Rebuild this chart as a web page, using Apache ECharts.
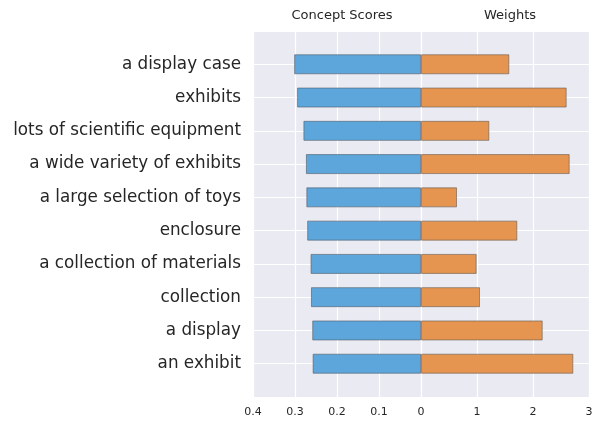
<!DOCTYPE html>
<html><head><meta charset="utf-8">
<script src="https://cdn.jsdelivr.net/npm/echarts@6/dist/echarts.min.js"></script>
<style>html,body{margin:0;padding:0;background:#fff}#c{width:596px;height:423px}</style>
</head><body><div id="c"></div>
<script>
const categories = ['a display case','exhibits','lots of scientific equipment','a wide variety of exhibits','a large selection of toys','enclosure','a collection of materials','collection','a display','an exhibit'];
const conceptScores = [0.302,0.295,0.280,0.274,0.273,0.271,0.263,0.262,0.259,0.258];
const weights = [1.577,2.601,1.220,2.655,0.643,1.720,0.994,1.054,2.173,2.720];
const leftTicks = ['0.4','0.3','0.2','0.1','0'];
const rightTicks = ['0','1','2','3'];

const cats = [''].concat(categories, ['']);
const pad = a => ['-'].concat(a, ['-']);
const font = 'DejaVu Sans';
const txt = '#262626';
const chart = echarts.init(document.getElementById('c'), null, {renderer:'canvas'});
const gridTop = 31, gridH = 366;
const yBase = {type:'category', data:cats, inverse:true, boundaryGap:false,
  axisLine:{show:false}, axisTick:{show:false},
  splitLine:{show:true, lineStyle:{color:'#fff', width:1.2}}};
chart.setOption({
  backgroundColor:'#fff',
  title:[
    {text:'Concept Scores', left:337, top:4, textAlign:'center', textStyle:{fontFamily:font, fontSize:13, fontWeight:'normal', color:txt}},
    {text:'Weights', left:505, top:4, textAlign:'center', textStyle:{fontFamily:font, fontSize:13, fontWeight:'normal', color:txt}}
  ],
  grid:[
    {left:253, width:168, top:gridTop, height:gridH, show:true, backgroundColor:'#EAEAF2', borderWidth:0},
    {left:421, width:168, top:gridTop, height:gridH, show:true, backgroundColor:'#EAEAF2', borderWidth:0}
  ],
  xAxis:[
    {gridIndex:0, type:'value', min:0, max:0.4, interval:0.1, inverse:true,
     axisLine:{show:false}, axisTick:{show:false},
     splitLine:{show:true, lineStyle:{color:'#fff', width:1.2}},
     axisLabel:{fontFamily:font, fontSize:11, color:txt, margin:10,
       formatter:v => leftTicks[4 - Math.round(v*10)]}},
    {gridIndex:1, type:'value', min:0, max:3, interval:1,
     axisLine:{show:false}, axisTick:{show:false},
     splitLine:{show:true, lineStyle:{color:'#fff', width:1.2}},
     axisLabel:{fontFamily:font, fontSize:11, color:txt, margin:10, showMinLabel:false,
       formatter:v => rightTicks[Math.round(v)]}}
  ],
  yAxis:[
    Object.assign({gridIndex:0, axisLabel:{fontFamily:font, fontSize:16.8, color:txt, margin:12, padding:[3,0,0,0]}}, yBase),
    Object.assign({gridIndex:1, axisLabel:{show:false}}, yBase)
  ],
  series:[
    {type:'bar', xAxisIndex:0, yAxisIndex:0, data:pad(conceptScores), barWidth:20,
     itemStyle:{color:'#5DA6DC', borderColor:'rgba(80,90,100,0.6)', borderWidth:1}, silent:true, animation:false},
    {type:'bar', xAxisIndex:1, yAxisIndex:1, data:pad(weights), barWidth:20,
     itemStyle:{color:'#E59550', borderColor:'rgba(100,90,80,0.6)', borderWidth:1}, silent:true, animation:false}
  ]
});
</script></body></html>
